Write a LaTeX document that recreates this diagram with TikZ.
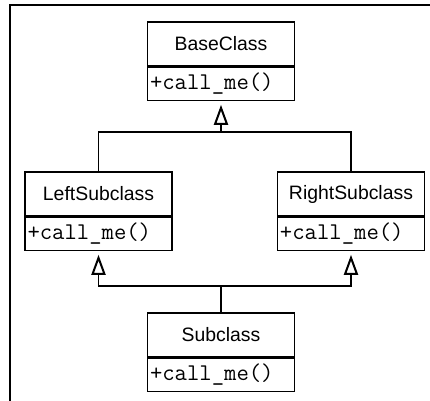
\documentclass[tikz,border=0pt]{standalone}
\usepackage{fontspec}
\setsansfont{Liberation Sans}
\usetikzlibrary{arrows.meta,positioning}
\tikzset{
  classname/.style={draw, line width=0.6pt, minimum width=73.5pt, minimum height=22pt,
    inner sep=0pt, font=\sffamily\fontsize{9.7}{11}\selectfont},
  classop/.style={draw, line width=0.6pt, minimum width=73.5pt, minimum height=16.5pt,
    text width=71pt, inner xsep=1.25pt, inner ysep=0pt, align=left,
    font=\ttfamily\fontsize{12}{13}\selectfont},
  inherit/.style={line width=0.6pt, -{Triangle[open,length=10pt,width=7pt,line width=1pt]}, shorten >=2pt}
}
\begin{document}
\begin{tikzpicture}[x=0.5pt,y=0.5pt]
    \useasboundingbox (0,0) rectangle (430,401);
    \draw[line width=0.6pt] (10,0) -- (10,396) -- (430,396);

    \node[classname] (base) at (221,357) {BaseClass};
    \node[classop, below=0pt of base] (baseop) {+call\_me()};
    \node[classname] (left) at (98.5,207) {LeftSubclass};
    \node[classop, below=0pt of left] (leftop) {+call\_me()};
    \node[classname] (right) at (351,207) {RightSubclass};
    \node[classop, below=0pt of right] (rightop) {+call\_me()};
    \node[classname] (sub) at (221,66) {Subclass};
    \node[classop, below=0pt of sub] (subop) {+call\_me()};

    \coordinate (topjoin) at (221,269);
    \coordinate (botjoin) at (221,115);

    \draw[inherit] (left.north) |- (topjoin) -- (baseop.south);
    \draw[line width=0.6pt] (right.north) |- (topjoin);
    \draw[inherit] (sub.north) -- (botjoin) -| (leftop.south);
    \draw[inherit] (botjoin) -| (rightop.south);
\end{tikzpicture}
\end{document}
